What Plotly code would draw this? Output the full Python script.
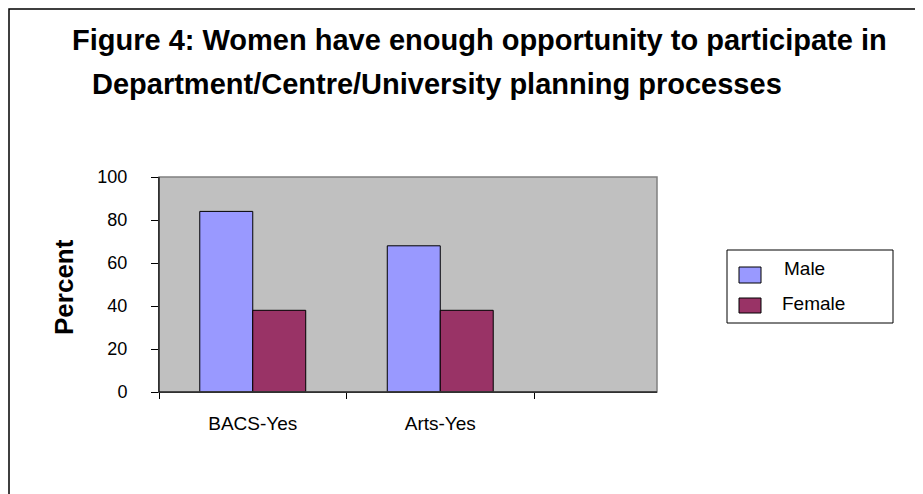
import plotly.graph_objects as go

categories = ["BACS-Yes", "Arts-Yes", " "]
series_names = ["Male", "Female"]
male = [84, 68, None]
female = [38, 38, None]
yticks = [0, 20, 40, 60, 80, 100]
colors = {"Male": "#9999FF", "Female": "#993366"}

W, H = 923, 494
OFF = 8  # page body margin; positions below are given in page pixels
L, R, T, B = 159 - OFF, 657 - OFF, 177 - OFF, 392 - OFF
CAT_W = 187.5  # pixel width of one category slot

def px(x):
    return (x - OFF - L) / (R - L)

def py(y):
    return (B - (y - OFF)) / (B - T)

fig = go.Figure()
for name, vals in zip(series_names, [male, female]):
    fig.add_trace(go.Bar(name=name, x=categories, y=vals, showlegend=False,
                         marker=dict(color=colors[name], line=dict(color="black", width=1))))

fig.update_layout(
    width=W, height=H,
    margin=dict(l=L, r=W - R, t=T, b=H - B),
    paper_bgcolor="white", plot_bgcolor="#C0C0C0",
    barmode="group", bargap=0.435, bargroupgap=0,
    font=dict(family="Liberation Sans, Arial, sans-serif", color="black", size=19),
    showlegend=False,
)
fig.update_xaxes(type="category", categoryorder="array", categoryarray=categories,
                 showline=True, linecolor="black", linewidth=1,
                 ticks="outside", tickson="boundaries", ticklen=6, tickcolor="black",
                 tickfont=dict(size=19), ticklabelstandoff=14, showgrid=False,
                 range=[-0.5, -0.5 + (R - L) / CAT_W], zeroline=False)
fig.update_yaxes(range=[0, 100], tickvals=yticks, showline=True, linecolor="black",
                 linewidth=1, ticks="outside", ticklen=7, tickcolor="black",
                 tickfont=dict(size=18), ticklabelstandoff=20, showgrid=False,
                 zeroline=False)

# plot area border (gray)
fig.add_shape(type="rect", xref="paper", yref="paper", x0=0, x1=1, y0=0, y1=1,
              line=dict(color="#808080", width=1.5), layer="above")
fig.add_shape(type="line", xref="paper", yref="paper", x0=0, x1=0, y0=0, y1=1,
              line=dict(color="black", width=1), layer="above")
fig.add_shape(type="line", xref="paper", yref="paper", x0=0, x1=1, y0=0, y1=0,
              line=dict(color="black", width=1), layer="above")

# legend (box, swatches, labels)
fig.add_shape(type="rect", xref="paper", yref="paper", x0=px(727), x1=px(893),
              y0=py(323), y1=py(250), line=dict(color="black", width=1))
leg_rows = [(267, 283, 268, 782), (298, 313, 303, 780)]
for name, (sy0, sy1, ty, tx) in zip(series_names, leg_rows):
    fig.add_shape(type="rect", xref="paper", yref="paper", x0=px(739), x1=px(761),
                  y0=py(sy1), y1=py(sy0), fillcolor=colors[name],
                  line=dict(color="black", width=1))
    fig.add_annotation(text=name, xref="paper", yref="paper", x=px(tx), y=py(ty),
                       xanchor="left", yanchor="middle", showarrow=False,
                       font=dict(size=19))

# outer chart frame
fig.add_shape(type="rect", xref="paper", yref="paper", x0=px(9), x1=px(960),
              y0=py(540), y1=py(9), line=dict(color="black", width=1.5))

fig.add_annotation(text="<b>Percent</b>", textangle=-90, xref="paper", yref="paper",
                   x=px(64), y=py(287), xanchor="center", yanchor="middle",
                   showarrow=False, font=dict(size=26))
fig.add_annotation(text="<b>Figure 4: Women have enough opportunity to participate in</b>",
                   xref="paper", yref="paper", x=px(70), y=py(40), xanchor="left",
                   yanchor="middle", showarrow=False, font=dict(size=29))
fig.add_annotation(text="<b>Department/Centre/University planning processes</b>",
                   xref="paper", yref="paper", x=px(90), y=py(84), xanchor="left",
                   yanchor="middle", showarrow=False, font=dict(size=29))

fig.write_html("out.html")
